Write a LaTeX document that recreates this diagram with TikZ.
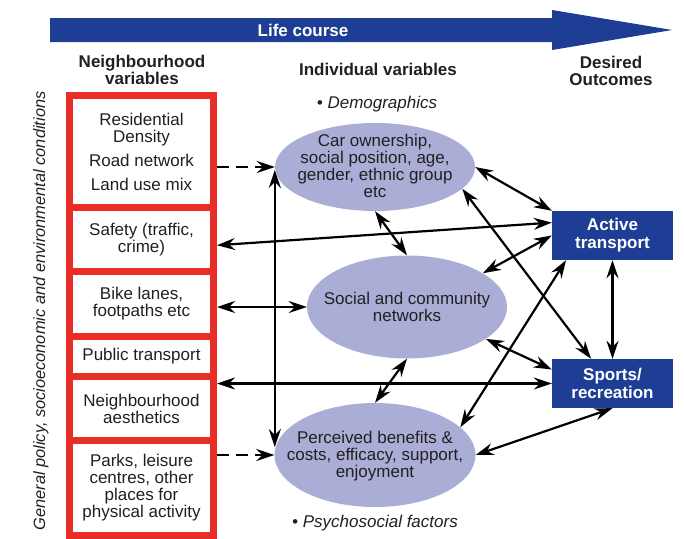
\documentclass[tikz,border=0pt]{standalone}
\usepackage{fontspec}
\setmainfont{Liberation Sans}
\usetikzlibrary{arrows.meta,shapes.geometric,calc}
\definecolor{redb}{RGB}{232,46,38}
\definecolor{blueb}{RGB}{30,62,150}
\definecolor{lav}{RGB}{170,174,214}
\definecolor{txt}{RGB}{35,31,32}
\begin{document}
\begin{tikzpicture}[x=1pt,y=-1pt,
  every node/.style={font=\fontsize{17}{17}\selectfont, text=txt, inner sep=0pt},
  lbox/.style={draw=redb, line width=7pt, fill=white, minimum width=144pt, align=center},
  ell/.style={ellipse, fill=lav, draw=none},
  etext/.style={align=center},
  outbox/.style={fill=blueb, minimum width=121pt, minimum height=49pt, align=center, text=white, font=\bfseries\fontsize{17}{18}\selectfont},
  head/.style={align=center, font=\bfseries\fontsize{17}{17}\selectfont},
  note/.style={font=\itshape\fontsize{17}{17}\selectfont},
  conn/.style={line width=2.2pt, draw=black, arrows={Stealth[length=18pt,width=12pt,inset=6pt]-Stealth[length=18pt,width=12pt,inset=6pt]}},
  dconn/.style={line width=2.2pt, draw=black, dash pattern=on 12pt off 7pt, arrows={-Stealth[length=18pt,width=12pt,inset=6pt]}}
]
\useasboundingbox (0,0) rectangle (684,538);

% life course arrow
\fill[blueb] (50,18) -- (552,18) -- (552,10) -- (672,30) -- (552,50) -- (552,42) -- (50,42) -- cycle;
\node[font=\bfseries\fontsize{17}{17}\selectfont, text=white] (lc) at (303,30) {Life course};

% headers
\node[head] (hn) at (142,70) {Neighbourhood\\variables};
\node[head] (hi) at (378,69) {Individual variables};
\node[head] (hd) at (611,70.5) {Desired\\Outcomes};
\node[note] (demo) at (377,104) {• Demographics};
\node[note] (psy) at (375,523) {• Psychosocial factors};

% side label
\node[note, rotate=90, font=\itshape\fontsize{16.4}{17}\selectfont] (side) at (41,311) {General policy, socioeconomic and environmental conditions};

% left boxes
\node[lbox, minimum height=112pt] (b1) at (141.5,151.5) {Residential\\Density\\[7pt]Road network\\[7pt]Land use mix};
\node[lbox, minimum height=63.5pt] (b2) at (141.5,239.25) {Safety (traffic,\\crime)};
\node[lbox, minimum height=65pt] (b3) at (141.5,303.5) {Bike lanes,\\footpaths etc};
\node[lbox, minimum height=40.5pt] (b4) at (141.5,356.25) {Public transport};
\node[lbox, minimum height=64pt] (b5) at (141.5,408.5) {Neighbourhood\\aesthetics};
\node[lbox, minimum height=94.5pt] (b6) at (141.5,487.75) {Parks, leisure\\centres, other\\places for\\physical activity};

% ellipses
\node[ell, minimum width=200pt, minimum height=88pt] (e1) at (375,167) {};
\node[etext] (e1t) at (375,166) {Car ownership,\\social position, age,\\gender, ethnic group\\etc};
\node[ell, minimum width=200pt, minimum height=103pt] (e2) at (407,307) {};
\node[etext] (e2t) at (407,306.5) {Social and community\\networks};
\node[ell, minimum width=201pt, minimum height=104pt] (e3) at (375,455) {};
\node[etext] (e3t) at (375,456) {Perceived benefits \&\\costs, efficacy, support,\\enjoyment};

% outcome boxes
\node[outbox] (at) at (612.5,235.5) {Active\\transport};
\node[outbox] (sp) at (612.5,383.5) {Sports/\\recreation};

% connectors
\draw[dconn] (b1.east |- e1.west) -- (e1.west);
\draw[dconn] (b6.east |- e3.west) -- (e3.west);
\draw[conn] ($(e1.west)+(0,3)$) -- ($(e1.west |- e3.west)+(0,-8)$);
\draw[conn] ($(b2.east)+(0,6)$) -- (at.168);
\draw[conn] (b3.east |- e2.west) -- (e2.west);
\draw[conn] (b5.east |- sp.west) -- (sp.west);
\draw[conn] (e1.south) -- (e2.north);
\draw[conn] (e2.south) -- (e3.north);
\draw[conn] (e1.east) -- (at.north west);
\draw[conn] (e1.-14) -- (sp.131);
\draw[conn] (e2.24) -- (at.west);
\draw[conn] (e2.-22) -- (sp.167);
\draw[conn] (e3.18) -- (at.208);
\draw[conn] (e3.east) -- (sp.south);
\draw[conn] (at.south) -- (sp.north);
\end{tikzpicture}
\end{document}
